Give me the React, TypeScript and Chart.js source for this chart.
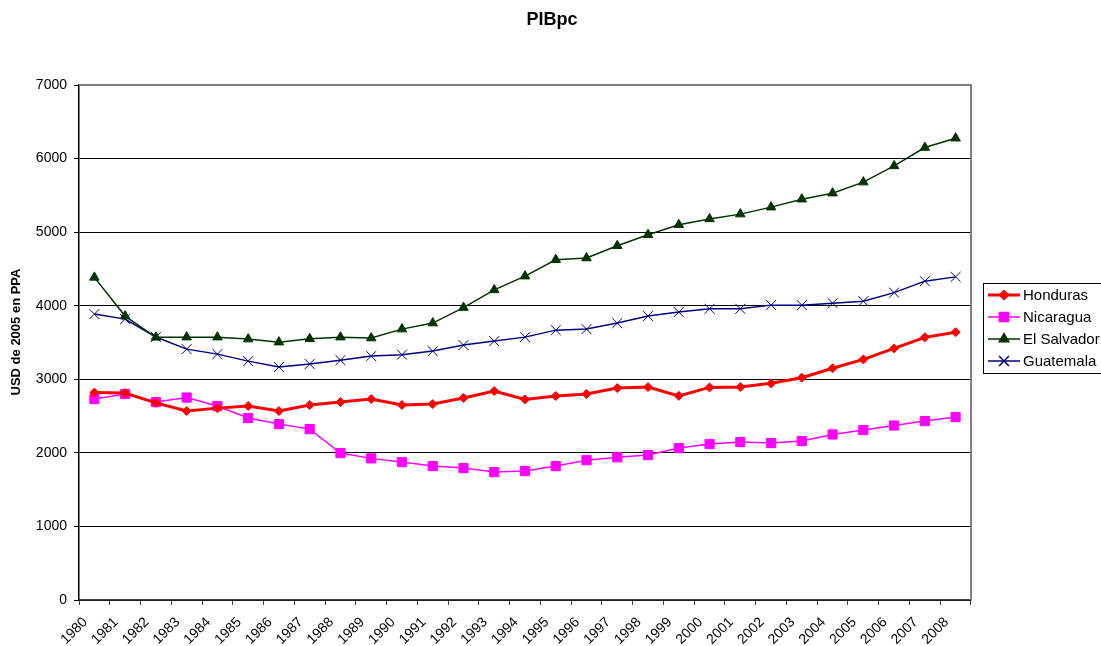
import React, { useEffect, useRef } from "react";
import { Chart, registerables } from "chart.js";
import { drawPoint } from "chart.js/helpers";

Chart.register(...registerables);

const years = [
  "1980", "1981", "1982", "1983", "1984", "1985", "1986", "1987", "1988", "1989",
  "1990", "1991", "1992", "1993", "1994", "1995", "1996", "1997", "1998", "1999",
  "2000", "2001", "2002", "2003", "2004", "2005", "2006", "2007", "2008",
];

const honduras = [
  2820, 2812, 2680, 2568, 2608, 2636, 2568, 2650, 2690, 2731,
  2650, 2663, 2745, 2840, 2727, 2772, 2800, 2880, 2894, 2775,
  2890, 2894, 2945, 3022, 3150, 3270, 3420, 3570, 3640,
];

const nicaragua = [
  2731, 2800, 2690, 2752, 2636, 2473, 2391, 2323, 1997, 1925,
  1875, 1820, 1793, 1739, 1753, 1820, 1900, 1940, 1970, 2065,
  2120, 2147, 2133, 2160, 2250, 2310, 2372, 2432, 2486,
];

const elSalvador = [
  4385, 3859, 3570, 3573, 3573, 3546, 3505, 3550, 3573, 3560,
  3682, 3764, 3975, 4215, 4402, 4625, 4648, 4815, 4965, 5100,
  5180, 5245, 5340, 5448, 5530, 5680, 5900, 6150, 6277,
];

const guatemala = [
  3886, 3818, 3575, 3410, 3342, 3247, 3166, 3207, 3260, 3315,
  3335, 3383, 3465, 3519, 3573, 3668, 3682, 3764, 3859, 3913,
  3958, 3958, 4008, 4008, 4035, 4062, 4178, 4334, 4392,
];

const yTicks = [0, 1000, 2000, 3000, 4000, 5000, 6000, 7000];

const chartTitle = "PIBpc";
const yTitle = "USD de 2005 en PPA";

const FONT = "Arial, 'Liberation Sans', sans-serif";

const textPlugin = {
  id: "texts",
  afterDraw(chart: any) {
    const ctx = chart.ctx;
    ctx.save();
    ctx.fillStyle = "#000000";
    ctx.textAlign = "center";
    ctx.textBaseline = "middle";
    ctx.font = `bold 18px ${FONT}`;
    ctx.fillText(chartTitle, 552, 20);
    ctx.translate(16, 332);
    ctx.rotate(-Math.PI / 2);
    ctx.font = `bold 13px ${FONT}`;
    ctx.fillText(yTitle, 0, 0);
    ctx.restore();
  },
};

const legendPlugin = {
  id: "customLegend",
  afterDraw(chart: any) {
    const ctx = chart.ctx;
    const left = 983;
    const top = 283;
    const width = 140;
    const height = 90;
    ctx.save();
    ctx.fillStyle = "#ffffff";
    ctx.fillRect(left, top, width, height);
    ctx.strokeStyle = "#000000";
    ctx.lineWidth = 1;
    ctx.strokeRect(left + 0.5, top + 0.5, width, height);
    chart.data.datasets.forEach((ds: any, i: number) => {
      const y = top + 12 + i * 22;
      ctx.strokeStyle = ds.borderColor;
      ctx.lineWidth = ds.borderWidth;
      ctx.beginPath();
      ctx.moveTo(988, y);
      ctx.lineTo(1020, y);
      ctx.stroke();
      ctx.fillStyle = ds.pointBackgroundColor;
      ctx.strokeStyle = ds.borderColor;
      ctx.lineWidth = 1.5;
      drawPoint(ctx, { pointStyle: ds.pointStyle, radius: ds.pointRadius, rotation: 0, borderWidth: 1.5 }, 1004, y);
      ctx.fillStyle = "#000000";
      ctx.font = `15px ${FONT}`;
      ctx.textBaseline = "middle";
      ctx.textAlign = "left";
      ctx.fillText(ds.label, 1023, y + 1);
    });
    ctx.restore();
  },
};

const borderPlugin = {
  id: "plotBorder",
  afterDatasetsDraw(chart: any) {
    const { ctx, chartArea } = chart;
    ctx.save();
    ctx.strokeStyle = "#808080";
    ctx.lineWidth = 2;
    ctx.beginPath();
    ctx.moveTo(chartArea.left, chartArea.top);
    ctx.lineTo(chartArea.right, chartArea.top);
    ctx.lineTo(chartArea.right, chartArea.bottom);
    ctx.stroke();
    ctx.restore();
  },
};

export default function App() {
  const canvasRef = useRef<HTMLCanvasElement | null>(null);

  useEffect(() => {
    if (!canvasRef.current) return;
    const mk = (label: string, data: number[], color: string, style: string, r: number, bw: number) => ({
      label,
      data,
      borderColor: color,
      backgroundColor: color,
      pointBackgroundColor: color,
      pointBorderColor: color,
      pointStyle: style,
      pointRadius: r,
      pointBorderWidth: 1,
      borderWidth: bw,
      tension: 0,
      fill: false,
    });
    const chart = new Chart(canvasRef.current, {
      type: "line",
      data: {
        labels: years,
        datasets: [
          mk("Honduras", honduras, "#ff0000", "rectRot", 4.5, 3),
          mk("Nicaragua", nicaragua, "#ff00ff", "rect", 6.5, 1.5),
          mk("El Salvador", elSalvador, "#003300", "triangle", 5.5, 1.5),
          mk("Guatemala", guatemala, "#000080", "crossRot", 7, 1.5),
        ] as any,
      },
      options: {
        responsive: false,
        animation: false,
        devicePixelRatio: 1,
        layout: { padding: { left: 0, right: 130, top: 85, bottom: 0 } },
        plugins: {
          legend: { display: false },
          tooltip: { enabled: false },
          title: { display: false },
        },
        scales: {
          x: {
            type: "category",
            offset: true,
            grid: {
              offset: true,
              drawOnChartArea: false,
              drawTicks: true,
              tickLength: 5,
              color: "#404040",
            },
            border: { display: true, color: "#404040", width: 1.5 },
            ticks: {
              autoSkip: false,
              minRotation: 45,
              maxRotation: 45,
              color: "#000000",
              padding: 9,
              labelOffset: -9,
              font: { family: FONT, size: 14 },
            },
            afterFit: (scale: any) => {
              scale.height = 46;
            },
          },
          y: {
            min: 0,
            max: 7000,
            afterBuildTicks: (scale: any) => {
              scale.ticks = yTicks.map((v) => ({ value: v }));
            },
            grid: {
              color: "#000000",
              lineWidth: 1,
              tickLength: 5,
              drawTicks: true,
            },
            border: { display: true, color: "#000000", width: 1.5 },
            ticks: {
              color: "#000000",
              padding: 7,
              font: { family: FONT, size: 14 },
              callback: (v: any) => String(v),
            },
            title: { display: false },
            afterFit: (scale: any) => {
              scale.width = 79;
            },
          },
        },
      } as any,
      plugins: [borderPlugin, textPlugin, legendPlugin],
    });
    return () => chart.destroy();
  }, []);

  return (
    <div style={{ position: "absolute", left: 0, top: 0, width: 1101, height: 646, overflow: "hidden", background: "#fff" }}>
      <canvas ref={canvasRef} width={1101} height={646} style={{ display: "block" }} />
    </div>
  );
}
